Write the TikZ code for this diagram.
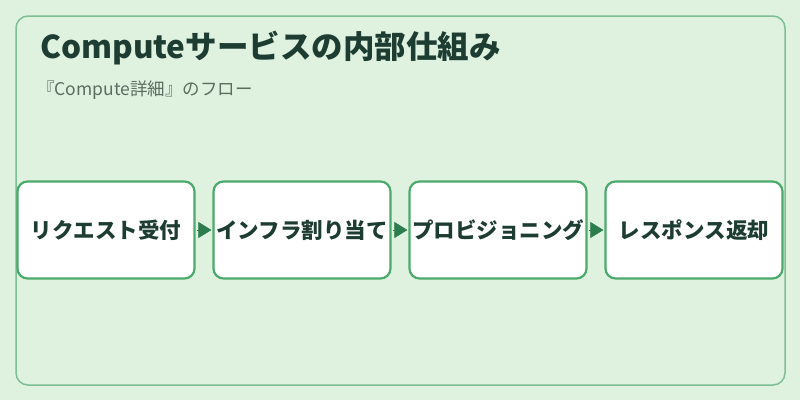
\documentclass[tikz,border=0pt]{standalone}
\usepackage{fontspec}
\setmainfont{Noto Sans CJK JP}
\usetikzlibrary{arrows.meta}
\definecolor{bgc}{HTML}{DFF2E0}
\definecolor{framec}{HTML}{7DBE94}
\definecolor{boxc}{HTML}{4CAA6C}
\definecolor{arrc}{HTML}{2E7D4F}
\definecolor{titlec}{HTML}{1E3D32}
\definecolor{subc}{HTML}{5A6E60}
\tikzset{
  stepbox/.style={draw=boxc, line width=2.2pt, fill=white, rounded corners=10pt,
    minimum width=177pt, minimum height=97pt, inner sep=0pt,
    font=\fontsize{21.5}{25}\selectfont\bfseries, text=titlec},
  flow/.style={draw=arrc, line width=0.5pt, -{Triangle[length=13pt,width=16pt]}, fill=arrc, shorten <=1pt, shorten >=1pt},
}
\begin{document}
\begin{tikzpicture}[x=1pt,y=1pt]
\fill[bgc] (0,0) rectangle (800,-400);
\useasboundingbox (0,0) rectangle (800,-400);
\draw[framec, line width=1.5pt, rounded corners=12pt] (16,-16) rectangle (785,-385);
\node[anchor=base west, text=titlec, font=\fontsize{31.5}{36}\selectfont\bfseries, inner sep=0pt] (title) at (40,-58) {Computeサービスの内部仕組み};
\node[anchor=base west, text=subc, font=\fontsize{17.5}{21}\selectfont, inner sep=0pt] (sub) at (37,-95) {『Compute詳細』のフロー};
\node[stepbox] (s1) at (106,-230) {リクエスト受付};
\node[stepbox] (s2) at (302,-230) {インフラ割り当て};
\node[stepbox] (s3) at (498,-230) {プロビジョニング};
\node[stepbox] (s4) at (694,-230) {レスポンス返却};
\draw[flow] (s1) -- (s2);
\draw[flow] (s2) -- (s3);
\draw[flow] (s3) -- (s4);
\end{tikzpicture}
\end{document}
